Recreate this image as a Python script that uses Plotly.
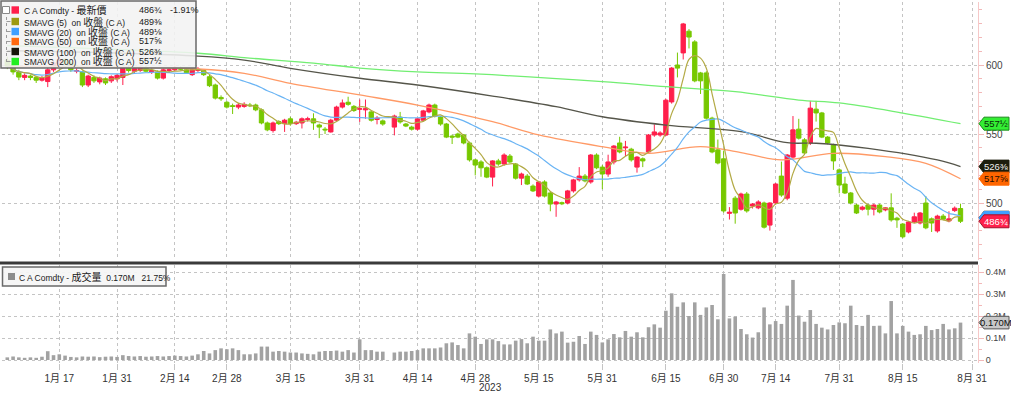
import plotly.graph_objects as go
import pandas as pd

# ---------------- data ----------------
holidays = ["2023-01-16", "2023-02-20", "2023-05-29", "2023-06-19", "2023-07-04"]
slots = [d for d in pd.bdate_range("2023-01-03", "2023-08-31")
         if d.strftime("%Y-%m-%d") not in holidays]

open_ = [603.5, 600, 595, 591, 592, 591, 589, 588, 596.5, 601, 604, 601.5, 595.5, 595, 585.5, 591, 587.75, 590, 588.5, 590,
         591, 598, 595.5, 596, 598, 595, 595, 590.5, 596, 596.5, 597.5, 596.5, 593, 596, 596, 591.5, 585.5, 576.5, 573, 570.5,
         569.5, 570, 571, 571, 567.5, 558, 552.5, 559, 557.5, 561, 557.5, 558, 560.5, 561, 556.5, 553.5, 551.5, 560, 569.5, 573,
         570, 568, 567.5, 566, 560.5, 559.5, None, 555, 562.25, 557.25, 555, 553.5, 560, 566, 571, 562.25, 557.25, 548.5, 550, 549.25,
         543.5, 531.25, 529.75, 525.5, 518.75, 530.5, 528.25, 534, 528.25, 518, 519.5, 512.25, 505, 515.25, 507.25, 499.25, 500.25, 500, 508.75, 516.75,
         519.5, 515.25, 534.75, 526, 521, 529.75, 543.5, 540, 539, 526, 532, 537, 549.25, 549.25, 549.25, 573.25, 600, 608.75, 624.5, 616.75,
         594.25, 594.25, 561.5, 538.5, 532, 492.5, 503.5, 495.5, 506.5, 497.75, 496.5, 500, 484, 500, 519.5, 503.5, 533.25, 553.5, 545.75, 543.5,
         568, 565.25, 547.75, 542, 524, 513.75, 507.25, 498.5, 495.5, 498.5, 495.5, 498.5, 495, 496.5, 489, 484.75, 479, 486.25, 485.5, 500,
         488.5, 479.75, 490.5, 487, 494.5, 496]
high = [606, 602, 596.5, 594, 593, 592, 592, 598, 603, 606, 605, 603, 597.5, 596, 593, 592.5, 591.5, 591, 592.5, 593.5,
        598.5, 599.5, 598.5, 599, 599.5, 597.5, 596, 597.5, 598, 599.5, 599, 598, 597.5, 598.5, 597, 593, 586.5, 578, 574, 572,
        572.5, 573, 572.5, 572, 568.5, 559, 559, 560, 561, 562.5, 559.5, 562, 562.5, 565, 557.5, 555, 561, 570.5, 575, 577,
        571, 575, 575, 567, 563, 560.5, None, 564, 566, 558, 556, 561.5, 567.5, 572, 572, 563, 558, 549.5, 551, 550,
        544.5, 532, 531, 526.5, 531, 532, 536, 535.5, 529, 522, 521, 513.5, 516, 516.5, 508.5, 501.5, 501, 509.5, 517.5, 526,
        521, 535.5, 536, 527.5, 535, 542, 548, 545, 540, 534, 533, 550, 557, 552, 575.5, 598.5, 609, 630.5, 626, 618,
        595, 595.5, 562.5, 546, 538, 497, 505, 507.5, 508, 500, 502, 501, 500.5, 514.5, 530, 535.5, 563, 561, 547, 574,
        574, 566, 548.5, 543, 525, 519, 508, 499.5, 498, 499.5, 499.5, 499.5, 497, 507, 490, 485.5, 487, 493, 493.5, 505,
        489.5, 491.5, 492, 494, 497.5, 499.5]
low = [597, 593, 589, 589, 589, 587, 588, 584, 595, 599, 600, 595, 594, 584, 584, 587, 586, 585.5, 587, 588,
       585.5, 594.5, 594, 595, 594.5, 593.5, 589.5, 589.5, 594.5, 595.5, 596, 593.5, 592, 595, 592, 584, 575, 574, 568.5, 564.5,
       568, 569, 569.5, 566.5, 557, 552, 551, 556.5, 551.5, 556, 556.5, 554, 559, 553, 547, 550, 551, 559, 568.5, 570.5,
       566, 558.75, 561, 559, 557, 556, None, 549, 557.5, 555, 552.5, 552.5, 559, 565, 562, 556, 547, 542.75, 547, 542.5,
       530, 520, 519, 518, 512, 527, 527, 529, 517, 513, 513, 508, 504, 504, 494, 490, 498.5, 499, 507.5, 515.5,
       515, 514, 524.5, 510, 519, 528, 536, 534, 530, 522, 526, 536, 548, 548, 548.5, 572, 591, 604, 612, 587.5,
       579, 560.5, 536, 528, 493, 488, 485, 494.5, 493, 496, 495.5, 481.5, 480, 499, 504.5, 502, 532, 546, 535, 542,
       559, 547, 542.5, 524, 507, 506.5, 499, 492, 494.5, 491, 491, 492.5, 494, 486.5, 482, 474.5, 478, 485.5, 484.5, 481,
       479, 478.5, 487.5, 486, 493.5, 485.5]
close = [599.25, 595, 591.25, 592.5, 591, 589, 590.5, 596.5, 601.5, 604, 601, 596.5, 596, 585.5, 592, 588.5, 590.5, 587, 591.5, 592.5,
         598, 596, 597.5, 598, 595.5, 596, 590.5, 596.5, 596.5, 598, 597, 594.5, 596.5, 597, 593, 585, 576, 575.5, 569.5, 570,
         571, 571.5, 570.5, 567.5, 558, 553, 558, 557.5, 560, 557.5, 558.5, 561, 561, 558, 555, 553, 560, 569.5, 572.5, 571.5,
         567, 568.25, 568.25, 560, 561.5, 557.25, None, 563, 558.75, 555.75, 553.5, 561, 566.75, 571, 563, 557.25, 547.75, 547.75, 547.75, 543.5,
         531.25, 527.5, 525.5, 518.75, 530.5, 528.25, 534.75, 529.75, 518, 521, 513.75, 508.75, 515.25, 505, 499.25, 500.75, 499.5, 508.75, 516.75, 519.5,
         516, 534.75, 525.5, 521, 529.75, 541.25, 537, 540.5, 531.25, 533.25, 530.5, 549.25, 551.5, 550.75, 574.5, 597.75, 597.75, 629.75, 620.25, 588.5,
         588.5, 561.5, 537, 529, 494.25, 493.25, 492.75, 506.5, 494.25, 499.25, 500.75, 482.5, 500, 513.75, 505.75, 534.75, 553, 547, 536.25, 568.75,
         565.25, 547.75, 543.5, 530.5, 513, 507.25, 500, 492.75, 497, 495.5, 498.5, 493.5, 496.5, 487.75, 487.75, 475.5, 486.25, 490, 492.75, 482,
         485.5, 490.5, 488.25, 488.5, 496.25, 486.75]
volume_m = [0.012, 0.016, 0.012, 0.010, 0.012, 0.010, 0.015, 0.040, 0.022, 0.026, 0.020, 0.014, 0.012, 0.016, 0.015, 0.016, 0.013, 0.015, 0.016, 0.014,
            0.022, 0.018, 0.016, 0.018, 0.015, 0.016, 0.018, 0.016, 0.018, 0.020, 0.018, 0.016, 0.020, 0.026, 0.041, 0.030, 0.045, 0.053, 0.049, 0.053,
            0.045, 0.026, 0.026, 0.030, 0.061, 0.061, 0.038, 0.041, 0.038, 0.034, 0.034, 0.030, 0.028, 0.026, 0.038, 0.041, 0.041, 0.043, 0.038, 0.045,
            0.034, 0.094, 0.045, 0.045, 0.038, 0.038, None, 0.034, 0.038, 0.038, 0.041, 0.045, 0.053, 0.053, 0.053, 0.057, 0.076, 0.080, 0.068, 0.053,
            0.121, 0.106, 0.073, 0.094, 0.094, 0.086, 0.071, 0.071, 0.088, 0.095, 0.076, 0.106, 0.088, 0.088, 0.139, 0.121, 0.129, 0.079, 0.083, 0.109,
            0.073, 0.129, 0.114, 0.080, 0.094, 0.118, 0.103, 0.132, 0.106, 0.126, 0.103, 0.149, 0.162, 0.147, 0.224, 0.303, 0.242, 0.262, 0.200, 0.262,
            0.205, 0.239, 0.250, 0.185, 0.391, 0.189, 0.197, 0.141, 0.117, 0.102, 0.126, 0.239, 0.162, 0.177, 0.164, 0.247, 0.364, 0.202, 0.174, 0.227,
            0.164, 0.147, 0.139, 0.159, 0.171, 0.167, 0.247, 0.159, 0.155, 0.205, 0.155, 0.156, 0.121, 0.268, 0.121, 0.155, 0.129, 0.114, 0.117, 0.155,
            0.136, 0.141, 0.164, 0.139, 0.144, 0.170]

# longer moving averages (trading-day slot, value)
sma50_idx = [0, 33, 41, 49, 61, 71, 84, 92, 103, 111, 120, 127, 134, 143, 152, 159, 165]
sma50_val = [599.0, 597.1, 594.0, 586.7, 578.3, 571.0, 558.9, 549.3, 540.8, 536.0, 540.8, 536.5, 531.2, 536.0, 533.6, 528.8, 517.6]
sma100_idx = [0, 33, 41, 49, 61, 71, 84, 95, 103, 114, 127, 135, 140, 149, 161, 165]
sma100_val = [610.5, 606.5, 603.6, 597.6, 590.4, 585.5, 577.5, 569.8, 562.5, 556.5, 551.7, 543.7, 543.3, 539.6, 531.2, 526.4]
sma200_idx = [0, 33, 41, 53, 61, 71, 81, 103, 114, 126, 137, 144, 155, 165]
sma200_val = [614.0, 608.5, 605.3, 601.4, 597.8, 595.0, 593.5, 587.9, 584.3, 580.7, 574.6, 572.5, 565.2, 557.5]

tick_dates = ["2023-01-17", "2023-01-31", "2023-02-14", "2023-02-28", "2023-03-15", "2023-03-31", "2023-04-14", "2023-04-28",
              "2023-05-15", "2023-05-31", "2023-06-15", "2023-06-30", "2023-07-14", "2023-07-31", "2023-08-15", "2023-08-31"]
tick_labels = ["1月 17", "1月 31", "2月 14", "2月 28", "3月 15", "3月 31", "4月 14", "4月 28",
               "5月 15", "5月 31", "6月 15", "6月 30", "7月 14", "7月 31", "8月 15", "8月 31"]

CJK = "<span style='font-size:10px'>{}</span>"
legend_names = ["C A Comdty - " + CJK.format("最新價"),
                "SMAVG (5)  on " + CJK.format("收盤") + " (C A)",
                "SMAVG (20)  on " + CJK.format("收盤") + " (C A)",
                "SMAVG (50)  on " + CJK.format("收盤") + " (C A)",
                "SMAVG (100)  on " + CJK.format("收盤") + " (C A)",
                "SMAVG (200)  on " + CJK.format("收盤") + " (C A)"]
legend_values = ["486¾", "489⅜", "489⅛", "517⅝", "526⅜", "557½"]
last_change = "-1.91%"
vol_legend = "C A Comdty - " + CJK.format("成交量") + "  0.170M   21.75%"

# ---------------- styling ----------------
RED = "#ff1f4b"
GREEN = "#77c800"
C5 = "#b3aa45"
C20 = "#6ab4f4"
C50 = "#ff9a66"
C100 = "#55554a"
C200 = "#72ee72"
FONT = "Liberation Sans, Noto Sans CJK TC, sans-serif"

slot_str = [d.strftime("%Y-%m-%d") for d in slots]
n = len(close)
xs = list(range(n))
tick_idx = [slot_str.index(d) for d in tick_dates]

cs = pd.Series(close, dtype=float)
valid = cs.dropna()
sma5 = valid.rolling(5, min_periods=1).mean().reindex(cs.index)
sma20 = valid.rolling(20, min_periods=1).mean().reindex(cs.index)

X0, PW, YB, PH = 2.0, 976.0, 363.0, 361.0
def pxx(x):
    return (x - X0) / PW
def pyy(y):
    return (YB - y) / PH

PXU = 5.777
xr0 = -(7.3 - X0) / PXU
xr1 = xr0 + PW / PXU
ylo = 600 - (260 - 65) / 1.38
yhi = 600 + (65 - 2) / 1.38

fig = go.Figure()
fig.add_trace(go.Scatter(x=sma200_idx, y=sma200_val, mode="lines", line=dict(color=C200, width=1.3, shape="spline"),
                         xaxis="x", yaxis="y", hoverinfo="skip"))
fig.add_trace(go.Scatter(x=sma100_idx, y=sma100_val, mode="lines", line=dict(color=C100, width=1.3, shape="spline"),
                         xaxis="x", yaxis="y", hoverinfo="skip"))
fig.add_trace(go.Scatter(x=sma50_idx, y=sma50_val, mode="lines", line=dict(color=C50, width=1.3, shape="spline"),
                         xaxis="x", yaxis="y", hoverinfo="skip"))
fig.add_trace(go.Scatter(x=xs, y=sma20, mode="lines", connectgaps=True, line=dict(color=C20, width=1.2, shape="spline"),
                         xaxis="x", yaxis="y", hoverinfo="skip"))
fig.add_trace(go.Candlestick(x=xs, open=open_, high=high, low=low, close=close, xaxis="x", yaxis="y",
                             increasing=dict(line=dict(color=RED, width=1), fillcolor=RED),
                             decreasing=dict(line=dict(color=GREEN, width=1), fillcolor=GREEN),
                             whiskerwidth=0))
fig.add_trace(go.Scatter(x=xs, y=sma5, mode="lines", connectgaps=True, line=dict(color=C5, width=1.2, shape="spline"),
                         xaxis="x", yaxis="y", hoverinfo="skip"))
fig.add_trace(go.Bar(x=xs, y=volume_m, marker=dict(color="#a2a2a2", line=dict(width=0)), width=0.62,
                     xaxis="x2", yaxis="y2"))

grid = dict(showgrid=True, gridcolor="#c4c4c4", griddash="dot", gridwidth=1)
fig.update_layout(
    width=1011, height=393, margin=dict(l=2, r=33, t=2, b=30, autoexpand=False),
    paper_bgcolor="white", plot_bgcolor="white", showlegend=False,
    font=dict(family=FONT, size=10, color="#333"),
    boxgap=0.25, boxgroupgap=0.0,
    xaxis=dict(domain=[0, 1], anchor="y", range=[xr0, xr1], tickvals=tick_idx, showticklabels=False,
               rangeslider=dict(visible=False), zeroline=False, ticks="", **grid),
    xaxis2=dict(domain=[0, 1], anchor="y2", range=[xr0, xr1], tickvals=tick_idx, ticktext=tick_labels,
                ticks="outside", ticklen=6, tickcolor="#c4c4c4", zeroline=False,
                tickfont=dict(size=10, color="#333"), **grid),
    yaxis=dict(domain=[pyy(260), 1], anchor="x", side="right", range=[ylo, yhi], tickvals=[500, 550, 600],
               ticks="outside", ticklen=5, tickcolor="#f2b8b8", showline=True, linecolor="#f6c8c8", linewidth=1,
               minor=dict(dtick=10, ticks="outside", ticklen=3, tickcolor="#f2b8b8", showgrid=False),
               zeroline=False, tickfont=dict(size=10, color="#444"), **grid),
    yaxis2=dict(domain=[0, pyy(265)], anchor="x2", side="right", range=[-0.0136, 0.4318],
                tickvals=[0, 0.1, 0.2, 0.3, 0.4], ticktext=["0", "0.1M", "0.2M", "0.3M", "0.4M"],
                ticks="outside", ticklen=5, tickcolor="#f2b8b8", showline=True, linecolor="#f6c8c8", linewidth=1,
                minor=dict(dtick=0.05, ticks="outside", ticklen=3, tickcolor="#f2b8b8", showgrid=False),
                zeroline=False, tickfont=dict(size=9, color="#444"), **grid),
)

shapes = []
annos = []
# panel separator
shapes.append(dict(type="line", xref="paper", yref="paper", x0=pxx(0), x1=pxx(978), y0=pyy(263), y1=pyy(263),
                   line=dict(color="#3a3a3a", width=3)))

# main legend box
shapes.append(dict(type="rect", xref="paper", yref="paper", x0=pxx(1), x1=pxx(196), y0=pyy(68), y1=pyy(1),
                   fillcolor="rgba(242,242,242,0.88)", line=dict(color="#6a6a6a", width=1.5)))
shapes.append(dict(type="line", xref="paper", yref="paper", x0=pxx(6.5), x1=pxx(6.5), y0=pyy(62), y1=pyy(13),
                   line=dict(color="#9a9a9a", width=1, dash="dot")))
row_y = [10, 21.5, 31.5, 41.5, 51.5, 61.5]
row_col = [RED, "#9d9a12", "#3fa0ff", "#ff6a10", "#16160a", "#22ee22"]
for i, (ry, rc) in enumerate(zip(row_y, row_col)):
    shapes.append(dict(type="rect", xref="paper", yref="paper", x0=pxx(11.5), x1=pxx(19), y0=pyy(ry + 3.7), y1=pyy(ry - 3.7),
                       fillcolor=rc, line=dict(width=0)))
    if i > 0:
        shapes.append(dict(type="line", xref="paper", yref="paper", x0=pxx(6.5), x1=pxx(10.5), y0=pyy(ry), y1=pyy(ry),
                           line=dict(color="#9a9a9a", width=1)))
    annos.append(dict(xref="paper", yref="paper", x=pxx(21.5), y=pyy(ry), text=legend_names[i], showarrow=False,
                      xanchor="left", yanchor="middle", font=dict(size=8.5, color="#202020")))
    annos.append(dict(xref="paper", yref="paper", x=pxx(137), y=pyy(ry), text=legend_values[i], showarrow=False,
                      xanchor="left", yanchor="middle", font=dict(size=9, color="#202020")))
annos.append(dict(xref="paper", yref="paper", x=pxx(168), y=pyy(row_y[0]), text=last_change, showarrow=False,
                  xanchor="left", yanchor="middle", font=dict(size=9, color="#202020")))
shapes.append(dict(type="rect", xref="paper", yref="paper", x0=pxx(2.5), x1=pxx(9.5), y0=pyy(13.5), y1=pyy(6.5),
                   fillcolor="white", line=dict(color="#888", width=1)))

# volume legend box
shapes.append(dict(type="rect", xref="paper", yref="paper", x0=pxx(2.5), x1=pxx(166), y0=pyy(286), y1=pyy(267),
                   fillcolor="rgba(245,245,245,0.92)", line=dict(color="#6a6a6a", width=1.5)))
shapes.append(dict(type="rect", xref="paper", yref="paper", x0=pxx(8), x1=pxx(15), y0=pyy(280), y1=pyy(273),
                   fillcolor="#8c8c8c", line=dict(width=0)))
annos.append(dict(xref="paper", yref="paper", x=pxx(17), y=pyy(276.5), text=vol_legend, showarrow=False,
                  xanchor="left", yanchor="middle", font=dict(size=8.5, color="#202020")))

# year label
annos.append(dict(xref="x2", yref="paper", x=tick_idx[7] + 2.6, y=pyy(387), text="2023", showarrow=False,
                  xanchor="center", yanchor="middle", font=dict(size=10, color="#333")))

# right-axis value tags
def tag(val, fill, text, tcolor, yref="y", halfh=4.7, border=None):
    xt, xb0, xb1 = pxx(979), pxx(984), pxx(1009)
    path = (f"M {xt},{val} L {xb0},{val + halfh} L {xb1},{val + halfh} "
            f"L {xb1},{val - halfh} L {xb0},{val - halfh} Z")
    shapes.append(dict(type="path", xref="paper", yref=yref, path=path, fillcolor=fill,
                       line=dict(color=border or fill, width=1)))
    if text:
        annos.append(dict(xref="paper", yref=yref, x=pxx(996.5), y=val, text=text, showarrow=False,
                          xanchor="center", yanchor="middle", font=dict(size=9.5, color=tcolor)))

tag(557.5, "#33ee33", legend_values[5], "#0a2a0a", border="#1a8a1a")
tag(526.375, "#1c1c0c", legend_values[4], "#f0f0f0")
tag(517.625, "#ff6600", legend_values[3], "#2a0e00")
tag(489.375, "#a8a020", "", "#000", border="#555")
tag(489.125, "#3fa0ff", "", "#000")
tag(486.75, RED, legend_values[0], "white", border="#a0102a")
tag(0.170, "#c8c8c8", "0.170M", "#111", yref="y2", halfh=6.3 / 220, border="#555")

fig.update_layout(shapes=shapes, annotations=annos)
fig.write_html("out.html", config={"displayModeBar": False},
               post_script="document.body.style.margin='0px';document.body.style.overflow='hidden';")
